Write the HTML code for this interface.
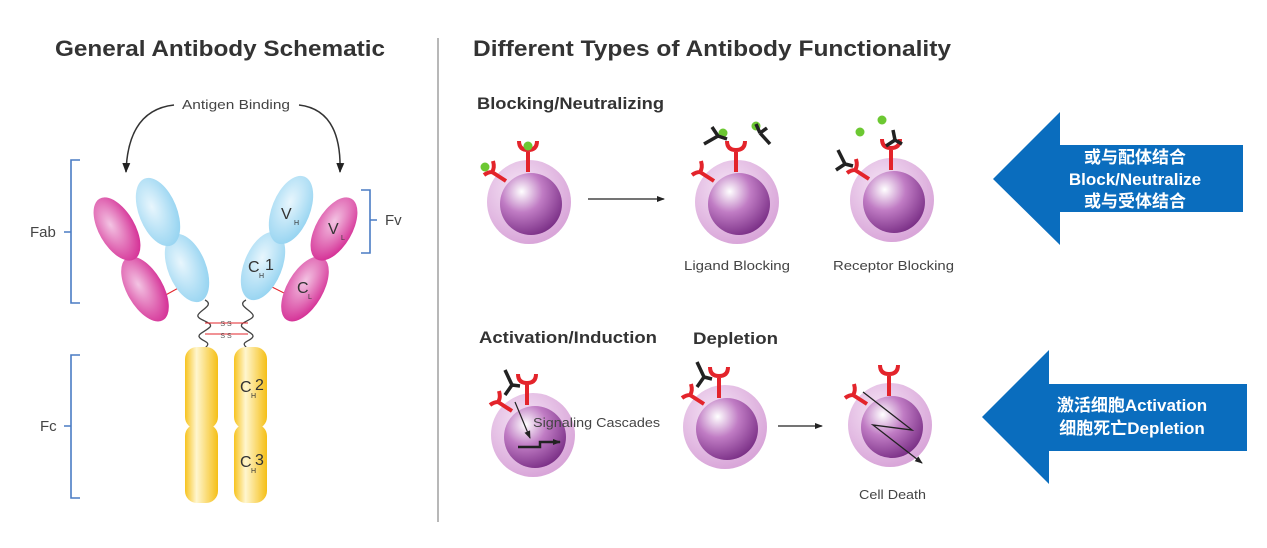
<!DOCTYPE html>
<html><head><meta charset="utf-8"><style>
html,body{margin:0;padding:0;background:#fff;}
svg{display:block;}
text{font-family:"Liberation Sans","Noto Sans CJK SC",sans-serif;}
</style></head><body>
<svg width="1267" height="548" viewBox="0 0 1267 548" xmlns="http://www.w3.org/2000/svg">
<defs>
<radialGradient id="cellO" cx="0.4" cy="0.35" r="0.65"><stop offset="0" stop-color="#f6e6f6"/><stop offset="1" stop-color="#d9a6d9"/></radialGradient>
<radialGradient id="cellI" cx="0.35" cy="0.3" r="0.75"><stop offset="0" stop-color="#ffffff"/><stop offset="0.45" stop-color="#c07cc4"/><stop offset="1" stop-color="#7a2f86"/></radialGradient>
<radialGradient id="blue" cx="0.4" cy="0.4" r="0.7"><stop offset="0" stop-color="#e8f6fd"/><stop offset="1" stop-color="#8fd1f0"/></radialGradient>
<radialGradient id="pink" cx="0.4" cy="0.4" r="0.7"><stop offset="0" stop-color="#f3c4e3"/><stop offset="1" stop-color="#d2238f"/></radialGradient>
<linearGradient id="yel" x1="0" x2="1"><stop offset="0" stop-color="#f7c31e"/><stop offset="0.35" stop-color="#fff6cf"/><stop offset="1" stop-color="#f5bf16"/></linearGradient>
<marker id="ah" markerUnits="userSpaceOnUse" markerWidth="10" markerHeight="10" refX="9" refY="5" orient="auto"><path d="M0,1 L10,5 L0,9 z" fill="#222"/></marker>
<marker id="ah2" markerUnits="userSpaceOnUse" markerWidth="8" markerHeight="8" refX="7" refY="4" orient="auto"><path d="M0,1 L8,4 L0,7 z" fill="#222"/></marker>
</defs>

<text x="55" y="56" font-size="22" font-weight="bold" fill="#333" textLength="330" lengthAdjust="spacingAndGlyphs">General Antibody Schematic</text>
<text x="473" y="56" font-size="22" font-weight="bold" fill="#333" textLength="478" lengthAdjust="spacingAndGlyphs">Different Types of Antibody Functionality</text>
<line x1="438" y1="38" x2="438" y2="522" stroke="#888" stroke-width="1.2"/>

<!-- antigen binding -->
<text x="182" y="109" font-size="13" fill="#444" textLength="108" lengthAdjust="spacingAndGlyphs">Antigen Binding</text>
<path d="M174,105 Q128,110 126,172" stroke="#333" stroke-width="1.5" fill="none" marker-end="url(#ah)"/>
<path d="M299,105 Q342,110 340,172" stroke="#333" stroke-width="1.5" fill="none" marker-end="url(#ah)"/>

<!-- brackets -->
<g stroke="#4a7cc4" stroke-width="1.6" fill="none">
<path d="M80,160 H71 V303 H80 M71,232 H64"/>
<path d="M80,355 H71 V498 H80 M71,426 H64"/>
<path d="M361,190 H370 V253 H361 M370,220 H377"/>
</g>
<text x="30" y="237" font-size="15" fill="#444">Fab</text>
<text x="40" y="431" font-size="15" fill="#444">Fc</text>
<text x="385" y="225" font-size="15" fill="#444">Fv</text>

<!-- hinge -->
<g stroke="#444" stroke-width="1.3" fill="none">
<path d="M205,300 C215,305 200,310 198,315 C196,320 214,322 210,327 C205,332 196,334 200,338 C204,342 212,342 205,348"/>
<path d="M246,300 C236,305 251,310 253,315 C255,320 238,322 242,327 C247,332 256,334 252,338 C248,342 240,342 247,348"/>
</g>
<g stroke="#e3242b" stroke-width="1"><line x1="205" y1="323" x2="248" y2="323"/><line x1="205" y1="334" x2="248" y2="334"/>
<line x1="162" y1="297" x2="182" y2="286"/><line x1="270" y1="286" x2="290" y2="296"/></g>
<text x="226" y="326" font-size="7" fill="#555" text-anchor="middle">S S</text>
<text x="226" y="338" font-size="7" fill="#555" text-anchor="middle">S S</text>

<!-- Fc -->
<rect x="185" y="347" width="33" height="82" rx="12" fill="url(#yel)"/>
<rect x="185" y="424" width="33" height="79" rx="12" fill="url(#yel)"/>
<rect x="234" y="347" width="33" height="82" rx="12" fill="url(#yel)"/>
<rect x="234" y="424" width="33" height="79" rx="12" fill="url(#yel)"/>
<text x="240" y="392" font-size="16" fill="#333">C</text><text x="251" y="398" font-size="7" fill="#333">H</text><text x="255" y="390" font-size="16" fill="#333">2</text>
<text x="240" y="467" font-size="16" fill="#333">C</text><text x="251" y="473" font-size="7" fill="#333">H</text><text x="255" y="465" font-size="16" fill="#333">3</text>

<!-- Fab arms -->
<ellipse cx="145" cy="289" rx="18" ry="36" transform="rotate(-30 145 289)" fill="url(#pink)"/>
<ellipse cx="117" cy="229" rx="18" ry="35" transform="rotate(-30 117 229)" fill="url(#pink)"/>
<ellipse cx="187" cy="268" rx="19" ry="36" transform="rotate(-22 187 268)" fill="url(#blue)"/>
<ellipse cx="158" cy="212" rx="19" ry="36" transform="rotate(-22 158 212)" fill="url(#blue)"/>
<ellipse cx="263" cy="266" rx="19" ry="36" transform="rotate(22 263 266)" fill="url(#blue)"/>
<ellipse cx="291" cy="210" rx="19" ry="36" transform="rotate(22 291 210)" fill="url(#blue)"/>
<ellipse cx="305" cy="289" rx="18" ry="36" transform="rotate(30 305 289)" fill="url(#pink)"/>
<ellipse cx="334" cy="229" rx="18" ry="35" transform="rotate(30 334 229)" fill="url(#pink)"/>
<text x="281" y="219" font-size="16" fill="#333">V</text><text x="294" y="225" font-size="7" fill="#333">H</text>
<text x="328" y="234" font-size="16" fill="#333">V</text><text x="341" y="240" font-size="7" fill="#333">L</text>
<text x="248" y="272" font-size="16" fill="#333">C</text><text x="259" y="278" font-size="7" fill="#333">H</text><text x="265" y="270" font-size="16" fill="#333">1</text>
<text x="297" y="293" font-size="16" fill="#333">C</text><text x="308" y="299" font-size="7" fill="#333">L</text>

<!-- right panel labels -->
<text x="477" y="109" font-size="17" font-weight="bold" fill="#333" textLength="187" lengthAdjust="spacingAndGlyphs">Blocking/Neutralizing</text>
<text x="479" y="343" font-size="17" font-weight="bold" fill="#333" textLength="178" lengthAdjust="spacingAndGlyphs">Activation/Induction</text>
<text x="693" y="344" font-size="17" font-weight="bold" fill="#333" textLength="85" lengthAdjust="spacingAndGlyphs">Depletion</text>
<text x="684" y="270" font-size="13" fill="#444" textLength="106" lengthAdjust="spacingAndGlyphs">Ligand Blocking</text>
<text x="833" y="270" font-size="13" fill="#444" textLength="121" lengthAdjust="spacingAndGlyphs">Receptor Blocking</text>
<text x="859" y="499" font-size="13" fill="#444" textLength="67" lengthAdjust="spacingAndGlyphs">Cell Death</text>

<!-- cells -->
<g>
<circle cx="529" cy="202" r="42" fill="url(#cellO)"/><circle cx="531" cy="204" r="31" fill="url(#cellI)"/>
<circle cx="737" cy="202" r="42" fill="url(#cellO)"/><circle cx="739" cy="204" r="31" fill="url(#cellI)"/>
<circle cx="892" cy="200" r="42" fill="url(#cellO)"/><circle cx="894" cy="202" r="31" fill="url(#cellI)"/>
<circle cx="533" cy="435" r="42" fill="url(#cellO)"/><circle cx="535" cy="437" r="31" fill="url(#cellI)"/>
<circle cx="725" cy="427" r="42" fill="url(#cellO)"/><circle cx="727" cy="429" r="31" fill="url(#cellI)"/>
<circle cx="890" cy="425" r="42" fill="url(#cellO)"/><circle cx="892" cy="427" r="31" fill="url(#cellI)"/>
</g>
<!-- receptors -->
<g stroke="#e3242b" stroke-width="4" fill="none">
<path d="M528,172 V150 M519,141 Q519,150 528,150 Q537,150 537,141"/>
<path d="M506,181 L492,172 M484,175 Q488,172 492,172 Q495,168 493,161"/>
<path d="M736,172 V150 M727,141 Q727,150 736,150 Q745,150 745,141"/>
<path d="M714,181 L700,172 M692,175 Q696,172 700,172 Q703,168 701,161"/>
<path d="M891,170 V148 M882,139 Q882,148 891,148 Q900,148 900,139"/>
<path d="M869,179 L855,170 M847,173 Q851,170 855,170 Q858,166 856,159"/>
<path d="M527,405 V383 M518,374 Q518,383 527,383 Q536,383 536,374"/>
<path d="M512,411 L498,402 M490,405 Q494,402 498,402 Q501,398 499,391"/>
<path d="M719,398 V376 M710,367 Q710,376 719,376 Q728,376 728,367"/>
<path d="M704,404 L690,395 M682,398 Q686,395 690,395 Q693,391 691,384"/>
<path d="M889,396 V374 M880,365 Q880,374 889,374 Q898,374 898,365"/>
<path d="M867,404 L853,395 M845,398 Q849,395 853,395 Q856,391 854,384"/>
</g>
<!-- ligands -->
<g fill="#6cc832">
<circle cx="528" cy="146" r="4.5"/><circle cx="485" cy="167" r="4.5"/>
<circle cx="723" cy="133" r="4.5"/><circle cx="756" cy="126" r="4.5"/>
<circle cx="860" cy="132" r="4.5"/><circle cx="882" cy="120" r="4.5"/>
</g>
<!-- antibodies (black Y) -->
<g stroke="#222" stroke-width="3.5" fill="none">
<path d="M718,136 L704,144 M718,136 L712,127 M718,136 L727,139"/>
<path d="M760,133 L770,144 M760,133 L756,124 M760,133 L767,128"/>
<path d="M895,140 L902,144 M895,140 L893,130 M895,140 L886,146"/>
<path d="M845,164 L838,150 M845,164 L836,170 M845,164 L853,166"/>
<path d="M512,385 L505,370 M512,385 L505,395 M512,385 L520,386"/>
<path d="M704,377 L697,362 M704,377 L697,387 M704,377 L712,379"/>
</g>
<!-- arrows -->
<line x1="588" y1="199" x2="664" y2="199" stroke="#222" stroke-width="1.3" marker-end="url(#ah2)"/>
<line x1="778" y1="426" x2="822" y2="426" stroke="#222" stroke-width="1.3" marker-end="url(#ah2)"/>
<!-- signaling -->
<line x1="515" y1="402" x2="530" y2="438" stroke="#222" stroke-width="1.2" marker-end="url(#ah2)"/>
<path d="M518,447 H540 V442 H560" stroke="#222" stroke-width="2.5" fill="none" marker-end="url(#ah2)"/>
<text x="533" y="427" font-size="13" fill="#444" textLength="127" lengthAdjust="spacingAndGlyphs">Signaling Cascades</text>
<!-- death zigzag -->
<path d="M863,392 L912,430 L873,425 L922,463" stroke="#222" stroke-width="1.3" fill="none" marker-end="url(#ah2)"/>

<!-- blue arrows -->
<path d="M993,179 L1060,112 V145 H1243 V212 H1060 V245 Z" fill="#0a6dbe"/>
<path d="M982,417 L1049,350 V384 H1247 V451 H1049 V484 Z" fill="#0a6dbe"/>
<g fill="#fff" font-weight="bold" font-size="17" text-anchor="middle">
<text x="1135" y="163">或与配体结合</text>
<text x="1135" y="185">Block/Neutralize</text>
<text x="1135" y="207">或与受体结合</text>
<text x="1132" y="411">激活细胞Activation</text>
<text x="1132" y="434">细胞死亡Depletion</text>
</g>
</svg>
</body></html>
